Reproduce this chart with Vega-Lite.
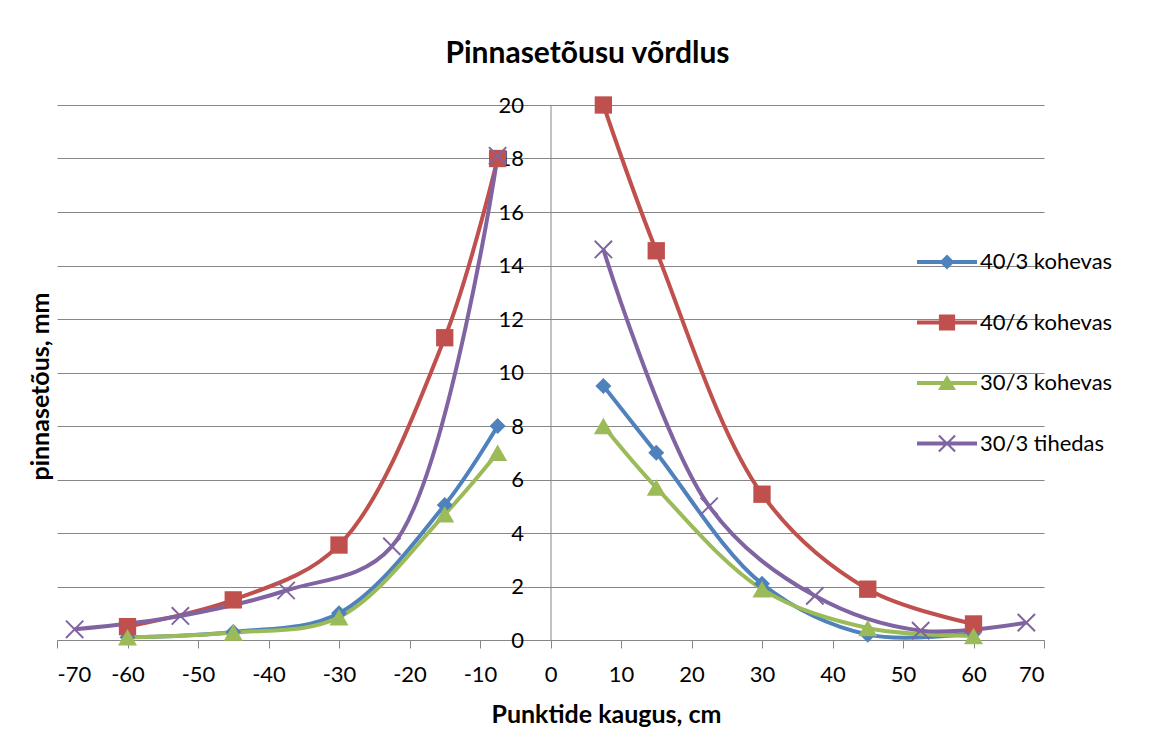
{
  "$schema": "https://vega.github.io/schema/vega-lite/v6.json",
  "width": 987,
  "height": 535,
  "autosize": {"type": "none"},
  "padding": {"left": 57, "top": 105, "right": 124, "bottom": 93},
  "background": "white",
  "title": {"text": "Pinnasetõusu võrdlus", "font": "Lato", "fontSize": 30, "fontWeight": "bold", "color": "#000000", "anchor": "middle", "frame": "group", "baseline": "alphabetic", "dx": 37, "offset": 1},
  "config": {"view": {"stroke": null}, "font": "Lato"},
  "data": {"values": [
    {"x": -60, "y": 0.1, "s": "40/3 kohevas", "side": "L"},
    {"x": -45, "y": 0.3, "s": "40/3 kohevas", "side": "L"},
    {"x": -30, "y": 1.0, "s": "40/3 kohevas", "side": "L"},
    {"x": -15, "y": 5.05, "s": "40/3 kohevas", "side": "L"},
    {"x": -7.5, "y": 8.0, "s": "40/3 kohevas", "side": "L"},
    {"x": 7.5, "y": 9.5, "s": "40/3 kohevas", "side": "R"},
    {"x": 15, "y": 7.0, "s": "40/3 kohevas", "side": "R"},
    {"x": 30, "y": 2.1, "s": "40/3 kohevas", "side": "R"},
    {"x": 45, "y": 0.2, "s": "40/3 kohevas", "side": "R"},
    {"x": 60, "y": 0.25, "s": "40/3 kohevas", "side": "R"},
    {"x": -60, "y": 0.5, "s": "40/6 kohevas", "side": "L"},
    {"x": -45, "y": 1.5, "s": "40/6 kohevas", "side": "L"},
    {"x": -30, "y": 3.55, "s": "40/6 kohevas", "side": "L"},
    {"x": -15, "y": 11.3, "s": "40/6 kohevas", "side": "L"},
    {"x": -7.5, "y": 18.0, "s": "40/6 kohevas", "side": "L"},
    {"x": 7.5, "y": 20.0, "s": "40/6 kohevas", "side": "R"},
    {"x": 15, "y": 14.55, "s": "40/6 kohevas", "side": "R"},
    {"x": 30, "y": 5.45, "s": "40/6 kohevas", "side": "R"},
    {"x": 45, "y": 1.9, "s": "40/6 kohevas", "side": "R"},
    {"x": 60, "y": 0.6, "s": "40/6 kohevas", "side": "R"},
    {"x": -60, "y": 0.1, "s": "30/3 kohevas", "side": "L"},
    {"x": -45, "y": 0.28, "s": "30/3 kohevas", "side": "L"},
    {"x": -30, "y": 0.85, "s": "30/3 kohevas", "side": "L"},
    {"x": -15, "y": 4.7, "s": "30/3 kohevas", "side": "L"},
    {"x": -7.5, "y": 7.0, "s": "30/3 kohevas", "side": "L"},
    {"x": 7.5, "y": 8.0, "s": "30/3 kohevas", "side": "R"},
    {"x": 15, "y": 5.7, "s": "30/3 kohevas", "side": "R"},
    {"x": 30, "y": 1.9, "s": "30/3 kohevas", "side": "R"},
    {"x": 45, "y": 0.45, "s": "30/3 kohevas", "side": "R"},
    {"x": 60, "y": 0.15, "s": "30/3 kohevas", "side": "R"},
    {"x": -67.5, "y": 0.4, "s": "30/3 tihedas", "side": "L"},
    {"x": -52.5, "y": 0.9, "s": "30/3 tihedas", "side": "L"},
    {"x": -37.5, "y": 1.85, "s": "30/3 tihedas", "side": "L"},
    {"x": -22.5, "y": 3.5, "s": "30/3 tihedas", "side": "L"},
    {"x": -7.5, "y": 18.1, "s": "30/3 tihedas", "side": "L"},
    {"x": 7.5, "y": 14.6, "s": "30/3 tihedas", "side": "R"},
    {"x": 22.5, "y": 5.0, "s": "30/3 tihedas", "side": "R"},
    {"x": 37.5, "y": 1.65, "s": "30/3 tihedas", "side": "R"},
    {"x": 52.5, "y": 0.35, "s": "30/3 tihedas", "side": "R"},
    {"x": 67.5, "y": 0.65, "s": "30/3 tihedas", "side": "R"}
  ]},
  "encoding": {
    "x": {"field": "x", "type": "quantitative",
      "scale": {"domain": [-70, 70], "nice": false, "zero": false},
      "axis": {"title": "Punktide kaugus, cm", "values": [-70, -60, -50, -40, -30, -20, -10, 0, 10, 20, 30, 40, 50, 60, 70],
        "labelExpr": "'' + datum.value",
        "grid": false, "domainColor": "#868686", "tickColor": "#868686", "tickSize": 8,
        "labelFont": "Lato", "labelFontSize": 22, "labelColor": "#000000", "labelPadding": 16,
        "titleFont": "Lato", "titleFontSize": 25, "titleFontWeight": "bold", "titleColor": "#000000",
        "titleX": 549, "titleY": 74, "titleBaseline": "middle", "titleAlign": "center"}},
    "y": {"field": "y", "type": "quantitative",
      "scale": {"domain": [0, 20], "nice": false},
      "axis": {"title": "pinnasetõus, mm", "values": [0, 2, 4, 6, 8, 10, 12, 14, 16, 18, 20],
        "grid": true, "gridColor": "#868686", "domainColor": "#868686", "tickColor": "#868686", "tickSize": 5,
        "offset": -493.5,
        "labelFont": "Lato", "labelFontSize": 22, "labelColor": "#000000", "labelPadding": 22,
        "titleFont": "Lato", "titleFontSize": 25, "titleFontWeight": "bold", "titleColor": "#000000",
        "titleX": -510, "titleY": 281, "titleBaseline": "middle", "titleAlign": "center", "titleAngle": -90}},
    "color": {"field": "s", "type": "nominal",
      "scale": {"domain": ["40/3 kohevas", "40/6 kohevas", "30/3 kohevas", "30/3 tihedas"], "range": ["#4F81BD", "#C0504D", "#9BBB59", "#8064A2"]},
      "legend": {"orient": "none", "legendX": 860, "legendY": 127, "title": null, "symbolSize": 3600,
        "labelFont": "Lato", "labelFontSize": 22, "labelColor": "#000000", "labelOffset": 3, "rowPadding": 19.5, "padding": 0,
        "symbolStrokeWidth": 0, "symbolOpacity": 1,
        "encode": {"symbols": {"update": {
          "shape": {"signal": "datum.value === '40/3 kohevas' ? 'M-1,-0.07H1V0.07H-1Z M0,-0.25L0.25,0L0,0.25L-0.25,0Z' : datum.value === '40/6 kohevas' ? 'M-1,-0.07H1V0.07H-1Z M-0.27,-0.27H0.27V0.27H-0.27Z' : datum.value === '30/3 kohevas' ? 'M-1,-0.07H1V0.07H-1Z M0,-0.27L0.3,0.23L-0.3,0.23Z' : 'M-1,-0.07H1V0.07H-1Z M-0.245,-0.295L0.295,0.245L0.245,0.295L-0.295,-0.245Z M-0.245,0.295L-0.295,0.245L0.245,-0.295L0.295,-0.245Z'"},
          "fill": {"scale": "color", "field": "value"},
          "strokeWidth": {"value": 0},
          "opacity": {"value": 1}
        }}}}}
  },
  "layer": [
    {"mark": {"type": "line", "interpolate": "catmull-rom", "strokeWidth": 4},
     "encoding": {"detail": {"field": "side", "type": "nominal"}}},
    {"transform": [{"filter": "datum.s === '40/3 kohevas'"}],
     "mark": {"type": "point", "filled": true, "opacity": 1, "size": 256, "shape": "diamond"}},
    {"transform": [{"filter": "datum.s === '40/6 kohevas'"}],
     "mark": {"type": "point", "filled": true, "opacity": 1, "size": 300, "shape": "square"}},
    {"transform": [{"filter": "datum.s === '30/3 kohevas'"}],
     "mark": {"type": "point", "filled": true, "opacity": 1, "size": 361, "shape": "triangle-up"}},
    {"transform": [{"filter": "datum.s === '30/3 tihedas'"}],
     "mark": {"type": "point", "filled": true, "opacity": 1, "size": 300, "shape": "M-0.92,-1.08L1.08,0.92L0.92,1.08L-1.08,-0.92Z M-0.92,1.08L-1.08,0.92L0.92,-1.08L1.08,-0.92Z"}}
  ]
}
